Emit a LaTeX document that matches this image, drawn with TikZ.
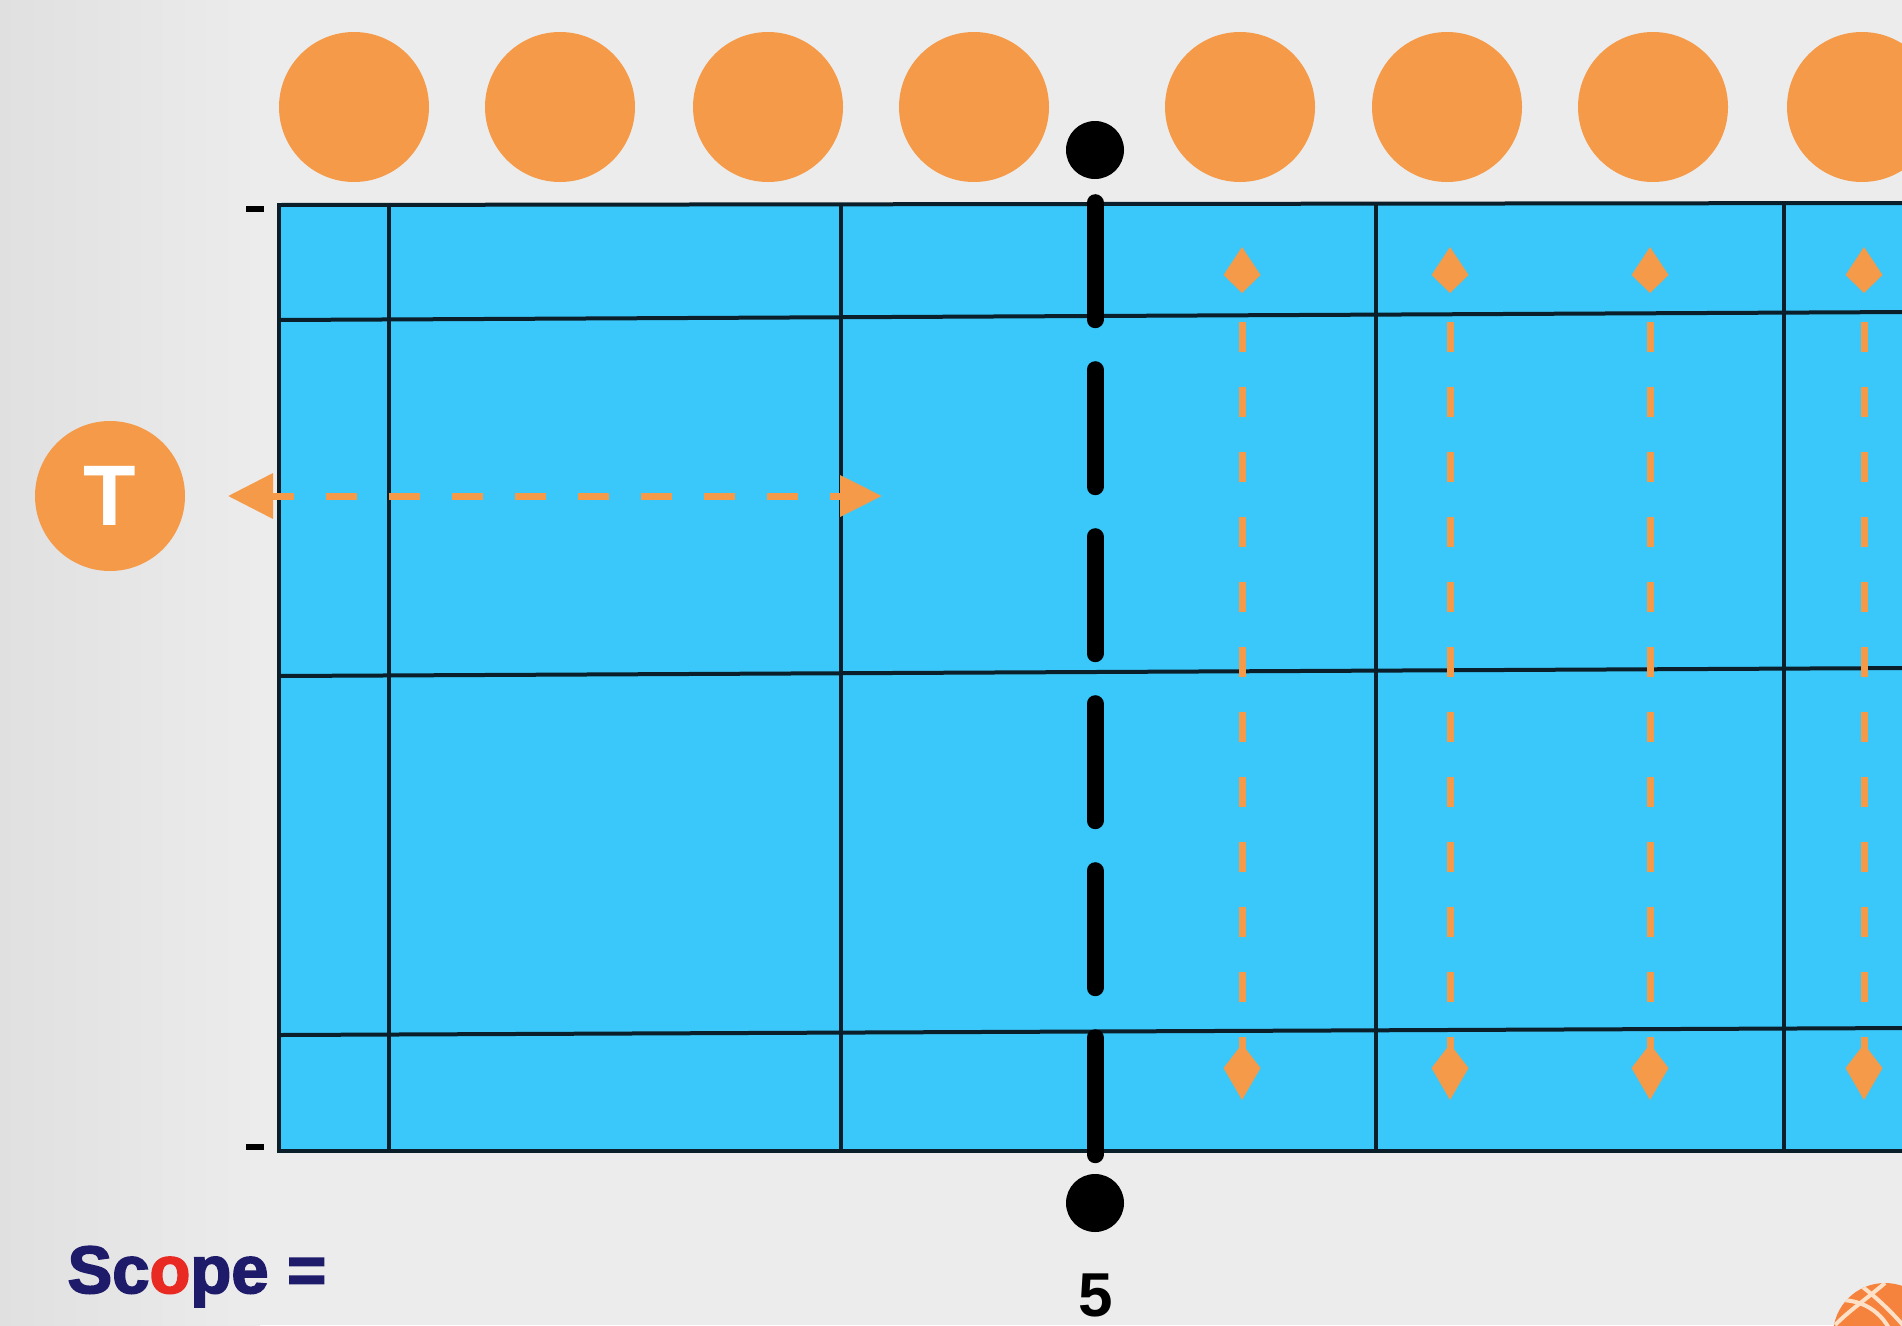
\documentclass[tikz,border=0pt]{standalone}
\usepackage{fontspec}
\setmainfont{Liberation Sans}
\newfontfamily\scopefont[BoldFeatures={FakeBold=2.5}]{Liberation Sans}
\usetikzlibrary{arrows.meta}
\definecolor{bg}{HTML}{ECECEC}
\definecolor{bgdark}{HTML}{E0E0E0}
\definecolor{court}{HTML}{39C8F9}
\definecolor{ball}{HTML}{F49A48}
\definecolor{navy}{HTML}{1F1B6B}
\definecolor{redo}{HTML}{E82A22}
\definecolor{gridline}{HTML}{0B1F2B}
\begin{document}
\begin{tikzpicture}[x=1pt,y=-1pt,
  ballc/.style={circle,fill=ball,minimum size=150pt,inner sep=0pt},
  netdot/.style={circle,fill=black,minimum size=58pt,inner sep=0pt},
  grid/.style={draw=gridline,line width=4pt},
  tick/.style={draw=black,line width=6pt},
  netline/.style={draw=black,line width=17pt,line cap=round,dash pattern=on 117pt off 50pt},
  harrow/.style={draw=ball,line width=7pt,dash pattern=on 31pt off 32pt,dash phase=8pt,
    {Triangle[length=45pt,width=44pt]}-{Triangle[length=42pt,width=40pt]}},
  varrow/.style={draw=ball,line width=7pt,dash pattern=on 30pt off 35pt,dash phase=31pt,
    {Kite[length=46pt,width=37pt,inset=18pt]}-{Kite[length=56pt,width=37pt,inset=24pt]}},
  lbl/.style={font=\bfseries\fontsize{62}{70}\selectfont}
]
\useasboundingbox (0,0) rectangle (1902,1325);
\fill[bg] (0,0) rectangle (1902,1325);
\shade[left color=bgdark,right color=bg] (0,0) rectangle (260,1325);

% top balls
\foreach \i/\x in {1/354,2/560,3/768,4/974,5/1240,6/1447,7/1653,8/1862}
  \node[ballc] (b\i) at (\x,107) {};

% court
\fill[court] (279,205) rectangle (1910,1151);
\draw[grid] (279,205) -- (1910,203);
\draw[grid] (279,320) -- (1910,312);
\draw[grid] (279,676) -- (1910,668);
\draw[grid] (279,1035) -- (1910,1028);
\draw[grid] (279,1151) -- (1910,1151);
\draw[grid] (279,203) -- (279,1153);
\foreach \x in {389,841,1376,1784}
  \draw[grid] (\x,205) -- (\x,1151);

% ticks
\draw[tick] (246,209) -- (264,209);
\draw[tick] (246,1147) -- (264,1147);

% net
\node[netdot] (dtop) at (1095,150) {};
\node[netdot] (dbot) at (1095,1203) {};
\draw[netline,shorten <=23.5pt,shorten >=17.5pt] (dtop) -- (dbot);

% T player and horizontal arrow
\node[ballc,text=white,font=\bfseries\fontsize{86}{90}\selectfont] (T) at (110,496) {T};
\coordinate (hl) at (228,496);
\coordinate (hr) at (882,496);
\draw[harrow] (hl) -- (hr);

% vertical arrows
\foreach \i/\x in {1/1242,2/1450,3/1650,4/1864}{
  \coordinate (vt\i) at (\x,247);
  \coordinate (vb\i) at (\x,1100);
  \draw[varrow] (vt\i) -- (vb\i);
}

% labels
\node[anchor=base west,text=navy,font=\scopefont\bfseries\fontsize{67}{72}\selectfont] (scope) at (64,1293) {Sc\textcolor{redo}{o}pe =};
\node[lbl,anchor=base,text=black] (five) at (1096,1316) {5};

% volleyball icon (partly visible)
\begin{scope}
  \clip (1885,1335) circle (52pt);
  \fill[ball!85!red] (1885,1335) circle (52pt);
  \draw[white!70!ball,line width=4pt] (1840,1300) .. controls (1870,1300) and (1890,1320) .. (1895,1345);
  \draw[white!70!ball,line width=4pt] (1860,1285) .. controls (1880,1300) and (1900,1320) .. (1915,1340);
  \draw[white!70!ball,line width=4pt] (1835,1325) .. controls (1850,1310) and (1865,1300) .. (1885,1283);
\end{scope}
\end{tikzpicture}
\end{document}
